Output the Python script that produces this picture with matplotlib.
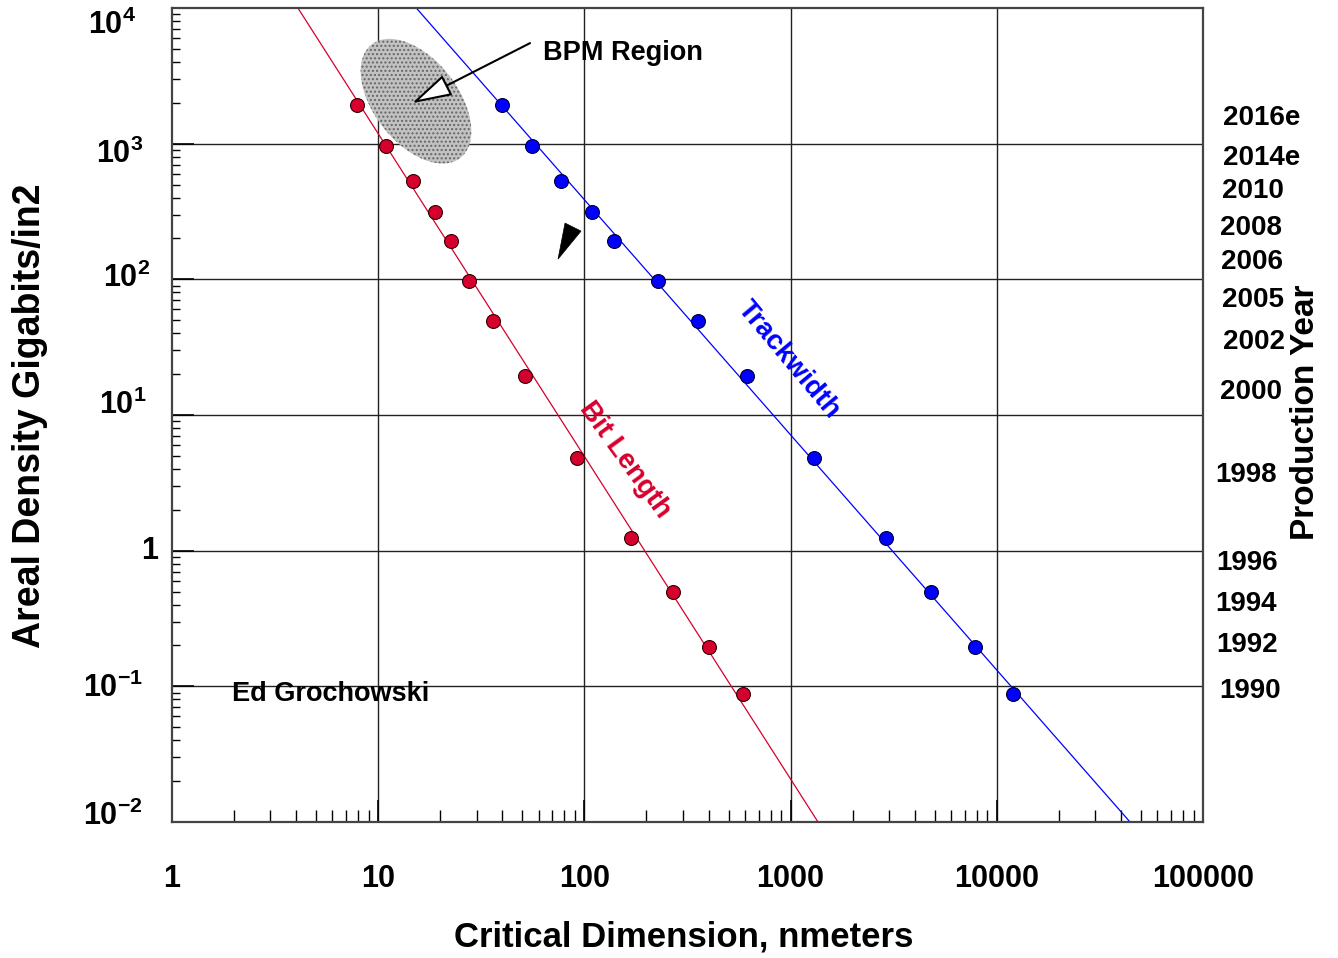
import matplotlib
matplotlib.use("Agg")
import matplotlib.pyplot as plt
import matplotlib.transforms as mtransforms
from matplotlib.patches import Ellipse, Polygon
from matplotlib.ticker import FixedLocator, LogLocator, NullFormatter

# ---------------- data ----------------
years = ["2016e", "2014e", "2010", "2008", "2006", "2005", "2002", "2000",
         "1998", "1996", "1994", "1992", "1990"]
areal_density = [1923, 959, 530, 313, 191, 97, 49, 19.4, 4.8, 1.24, 0.495, 0.195, 0.0877]
bit_length_nm = [7.9, 10.9, 14.7, 18.9, 22.5, 27.6, 36, 51.5, 92, 168, 269, 402, 588]
trackwidth_nm = [39.9, 55.7, 77, 109, 139, 228, 356, 615, 1298, 2903, 4797, 7835, 11990]

bit_fit_x = [4.08, 1358]
bit_fit_y = [1e4, 1e-2]
track_fit_x = [15.3, 44270]
track_fit_y = [1e4, 1e-2]

x_ticks = [1, 10, 100, 1000, 10000, 100000]
x_ticklabels = ["1", "10", "100", "1000", "10000", "100000"]
y_ticks = [1e-2, 1e-1, 1, 1e1, 1e2, 1e3, 1e4]
y_ticklabels = ["$10^{-2}$", "$10^{-1}$", "1", "$10^{1}$", "$10^{2}$", "$10^{3}$", "$10^{4}$"]

# ---------------- style ----------------
plt.rcParams["font.family"] = ["Liberation Sans", "DejaVu Sans"]
plt.rcParams["font.weight"] = "bold"
plt.rcParams["mathtext.fontset"] = "custom"
plt.rcParams["mathtext.rm"] = "Liberation Sans:bold"
plt.rcParams["mathtext.bf"] = "Liberation Sans:bold"
plt.rcParams["mathtext.it"] = "Liberation Sans:bold"
plt.rcParams["mathtext.sf"] = "Liberation Sans:bold"
plt.rcParams["mathtext.default"] = "rm"

RED = "#d6002e"
BLUE = "#0000ff"

W, H = 1338, 958
fig = plt.figure(figsize=(W / 100, H / 100), dpi=100)
ax = fig.add_axes([172 / W, 1 - 822 / H, (1203 - 172) / W, (822 - 8) / H])
ax.set_xscale("log")
ax.set_yscale("log")
ax.set_xlim(1, 100000)
ax.set_ylim(1e-2, 1e4)

# grid
for xv in x_ticks[1:-1]:
    ax.axvline(xv, color="#222222", lw=1.0, zorder=1)
for yv in y_ticks[1:-1]:
    ax.axhline(yv, color="#222222", lw=1.0, zorder=1)

# fit lines
ax.plot(bit_fit_x, bit_fit_y, color=RED, lw=0.9, zorder=2)
ax.plot(track_fit_x, track_fit_y, color=BLUE, lw=0.9, zorder=2)

# points
ax.plot(bit_length_nm, areal_density, "o", ms=10, mfc=RED, mec="#330000", mew=0.8, zorder=3)
ax.plot(trackwidth_nm, areal_density, "o", ms=10, mfc=BLUE, mec="#000033", mew=0.8, zorder=3)

# ticks
ax.xaxis.set_major_locator(FixedLocator(x_ticks))
ax.set_xticklabels(x_ticklabels)
ax.xaxis.set_minor_locator(LogLocator(base=10, subs=range(2, 10), numticks=20))
ax.xaxis.set_minor_formatter(NullFormatter())
ax.yaxis.set_major_locator(FixedLocator(y_ticks))
ax.yaxis.set_major_formatter(NullFormatter())
ax.yaxis.set_minor_locator(LogLocator(base=10, subs=range(2, 10), numticks=20))
ax.yaxis.set_minor_formatter(NullFormatter())

ax.tick_params(axis="x", which="major", direction="in", length=16, width=1.2,
               labelsize=22, pad=30, top=False)
ax.tick_params(axis="x", which="minor", direction="in", length=9, width=1.0, top=False)
ax.tick_params(axis="y", which="major", direction="in", length=16, width=1.2, right=False)
ax.tick_params(axis="y", which="minor", direction="in", length=6, width=1.0, right=False)
for lab in ax.get_xticklabels():
    lab.set_fontweight("bold")

# y tick labels placed individually (right-aligned, baseline offsets as in original)
ylab_right_px = [143, 143, 158, 147, 150, 143, 136]
ylab_base_dy_px = [3, 11, 8, -1, 8, 19, 26]
yblend = mtransforms.blended_transform_factory(fig.transFigure, ax.transData)
for yv, lab, xr, dy in zip(y_ticks, y_ticklabels, ylab_right_px, ylab_base_dy_px):
    tr = yblend + mtransforms.ScaledTranslation(0, -dy / 100, fig.dpi_scale_trans)
    ax.text(xr / W, yv, lab, transform=tr, ha="right", va="baseline", fontsize=22,
            fontweight="bold", clip_on=False)

for s in ax.spines.values():
    s.set_color("#444444")
    s.set_linewidth(1.6)

# axis labels
fig.text(684 / W, 1 - 937 / H, "Critical Dimension, nmeters", ha="center", va="center",
         fontsize=25, fontweight="bold")
fig.text(30 / W, 1 - 416 / H, "Areal Density Gigabits/in2", ha="center", va="center",
         rotation=90, fontsize=27, fontweight="bold")
fig.text(1305 / W, 1 - 412 / H, "Production Year", ha="center", va="center",
         rotation=90, fontsize=24, fontweight="bold")

# year labels on the right (aligned with the data rows)
year_dy_px = [13, 12, 10, 16, 21, 19, 21, 16, 17, 25, 12, -2, -3]
year_x_px = [1223, 1223, 1222, 1220, 1221, 1222, 1223, 1220, 1215, 1216, 1215, 1216, 1219]
for yr, yv, dy, xp in zip(years, areal_density, year_dy_px, year_x_px):
    tr = yblend + mtransforms.ScaledTranslation(0, -dy / 100, fig.dpi_scale_trans)
    ax.text(xp / W, yv, yr, transform=tr, ha="left", va="center", fontsize=20,
            fontweight="bold", clip_on=False)

# series labels
ax.text(157, 4.66, "Bit Length", color=RED, rotation=-54, ha="center", va="center",
        fontsize=20, fontweight="bold", rotation_mode="anchor")
ax.text(982, 25.4, "Trackwidth", color=BLUE, rotation=-50, ha="center", va="center",
        fontsize=20, fontweight="bold", rotation_mode="anchor")

ax.text(1.95, 0.088, "Ed Grochowski", ha="left", va="center", fontsize=19.5, fontweight="bold")

# BPM region ellipse
ell_tr = fig.dpi_scale_trans + mtransforms.ScaledTranslation(15.25, 2056, ax.transData)
ell = Ellipse((0, 0), width=1.44, height=0.84, angle=-52, transform=ell_tr,
              facecolor="#c2c2c2", edgecolor="#666666", hatch="....", lw=0, zorder=2.5)
ax.add_patch(ell)

ax.text(63, 4645, "BPM Region", ha="left", va="center", fontsize=19.5, fontweight="bold")
ax.annotate("", xy=(14.6, 1987), xytext=(54.5, 5510),
            arrowprops=dict(arrowstyle="-|>,head_length=2.5,head_width=0.7",
                            fc="white", ec="black", lw=1.5, shrinkA=0, shrinkB=0),
            zorder=4)

# small filled arrowhead
tri_tr = fig.dpi_scale_trans + mtransforms.ScaledTranslation(74.5, 141, ax.transData)
tri = Polygon([(0, 0), (0.07, 0.36), (0.23, 0.28)], closed=True, transform=tri_tr,
              facecolor="black", edgecolor="black", lw=0.5, zorder=4)
ax.add_patch(tri)

fig.savefig("out.png", dpi=100)
